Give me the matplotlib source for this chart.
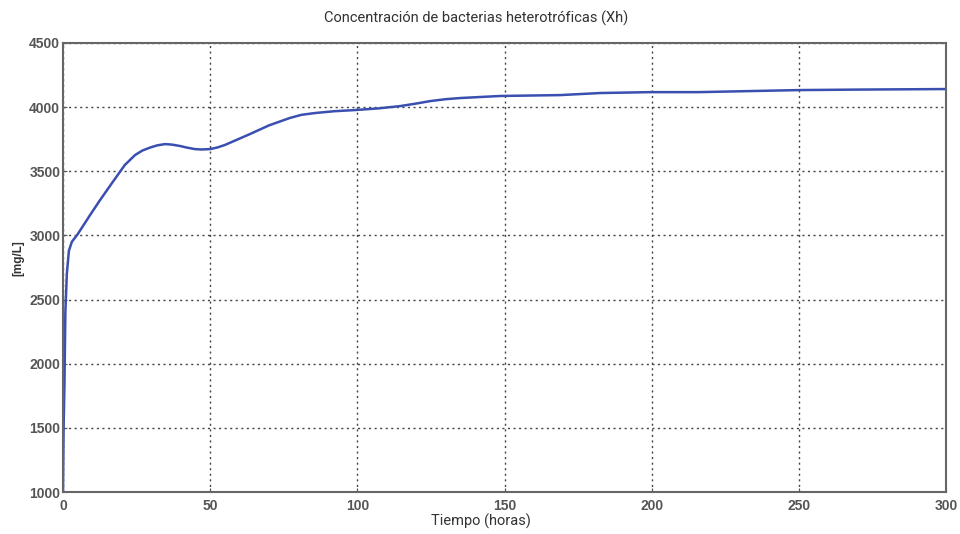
import matplotlib
matplotlib.use("Agg")
import matplotlib.pyplot as plt

# Heterotrophic biomass concentration over time
tiempo_h = [0, 0.2, 0.5, 0.8, 1.3, 2.0, 3.0, 5, 9.2, 12.6, 17, 21, 24.5, 27, 29.6,
            32, 34.7, 37, 39.8, 42, 44.8, 47, 50, 52.5, 55, 59, 63.5, 70, 77, 81,
            85.6, 92, 99, 107, 114.5, 120, 124.7, 130, 135, 148.5, 169, 182.5,
            199.5, 216, 233, 250, 271, 300]
xh_mg_l = [1000, 1500, 1850, 2400, 2700, 2880, 2950, 3010, 3159, 3276, 3420, 3549,
           3627, 3662, 3685, 3702, 3712, 3708, 3697, 3685, 3673, 3670, 3673, 3686,
           3705, 3745, 3790, 3858, 3915, 3940, 3954, 3968, 3977, 3990, 4008, 4028,
           4047, 4062, 4071, 4087, 4094, 4110, 4117, 4117, 4125, 4133, 4137, 4141]

x_ticks = [0, 50, 100, 150, 200, 250, 300]
y_ticks = [1000, 1500, 2000, 2500, 3000, 3500, 4000, 4500]

fig = plt.figure(figsize=(9.6, 5.34), dpi=100)
ax = fig.add_axes([63 / 960, 1 - 492 / 534, 883 / 960, 449 / 534])

ax.plot(tiempo_h, xh_mg_l, color="#3a4fb0", lw=1.8)

ax.set_xlim(0, 300)
ax.set_ylim(1000, 4500)
ax.set_xticks(x_ticks)
ax.set_yticks(y_ticks)
ax.grid(True, color="#444444", linestyle=(0, (1.5, 2.5)), linewidth=1.0)
for s in ax.spines.values():
    s.set_color("#666666")
    s.set_linewidth(1.5)
ax.tick_params(direction="in", length=3, colors="#555555", labelsize=10,
               labelcolor="#555555")
ax.tick_params(axis="x", pad=5)
ax.tick_params(axis="y", pad=2)
for lab in ax.get_xticklabels() + ax.get_yticklabels():
    lab.set_family("Liberation Sans")
    lab.set_fontweight("bold")

fig.text(476 / 960, 1 - 18 / 534, "Concentración de bacterias heterotróficas (Xh)",
         ha="center", va="center", fontsize=10.5, family="Roboto", color="#333333")
fig.text(481 / 960, 1 - 521 / 534, "Tiempo (horas)", ha="center", va="center",
         fontsize=10.5, family="Roboto", color="#333333")
fig.text(18 / 960, 1 - 258 / 534, "[mg/L]", ha="center", va="center", rotation=90,
         fontsize=8.5, fontweight="bold", family="Liberation Sans", color="#333333")

fig.savefig("out.png", dpi=100)
